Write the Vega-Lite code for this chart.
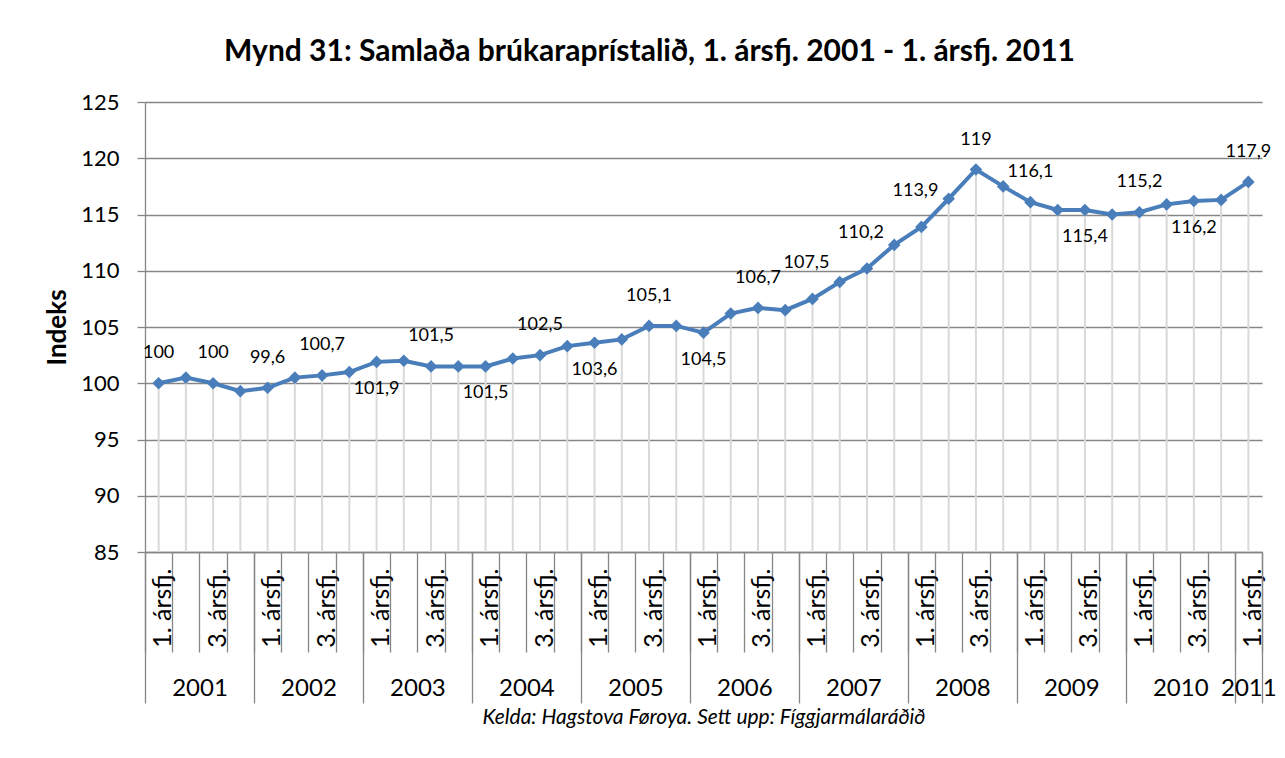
{
  "$schema": "https://vega.github.io/schema/vega-lite/v6.json",
  "width": 1117,
  "height": 450,
  "autosize": {"type": "none"},
  "padding": {"left": 145, "top": 102, "right": 23, "bottom": 206},
  "background": "white",
  "config": {"font": "Lato", "view": {"stroke": null}},
  "title": {"text": "Mynd 31: Samlaða brúkaraprístalið, 1. ársfj. 2001 - 1. ársfj. 2011", "fontSize": 30, "fontWeight": "bold", "color": "black", "anchor": "middle", "dx": -54, "offset": 24},
  "data": {"values": [
    {"i": 0, "ar": 2001, "q": 1, "v": 100},
    {"i": 1, "ar": 2001, "q": 2, "v": 100.5},
    {"i": 2, "ar": 2001, "q": 3, "v": 100},
    {"i": 3, "ar": 2001, "q": 4, "v": 99.3},
    {"i": 4, "ar": 2002, "q": 1, "v": 99.6},
    {"i": 5, "ar": 2002, "q": 2, "v": 100.5},
    {"i": 6, "ar": 2002, "q": 3, "v": 100.7},
    {"i": 7, "ar": 2002, "q": 4, "v": 101.0},
    {"i": 8, "ar": 2003, "q": 1, "v": 101.9},
    {"i": 9, "ar": 2003, "q": 2, "v": 102.0},
    {"i": 10, "ar": 2003, "q": 3, "v": 101.5},
    {"i": 11, "ar": 2003, "q": 4, "v": 101.5},
    {"i": 12, "ar": 2004, "q": 1, "v": 101.5},
    {"i": 13, "ar": 2004, "q": 2, "v": 102.2},
    {"i": 14, "ar": 2004, "q": 3, "v": 102.5},
    {"i": 15, "ar": 2004, "q": 4, "v": 103.3},
    {"i": 16, "ar": 2005, "q": 1, "v": 103.6},
    {"i": 17, "ar": 2005, "q": 2, "v": 103.9},
    {"i": 18, "ar": 2005, "q": 3, "v": 105.1},
    {"i": 19, "ar": 2005, "q": 4, "v": 105.1},
    {"i": 20, "ar": 2006, "q": 1, "v": 104.5},
    {"i": 21, "ar": 2006, "q": 2, "v": 106.2},
    {"i": 22, "ar": 2006, "q": 3, "v": 106.7},
    {"i": 23, "ar": 2006, "q": 4, "v": 106.5},
    {"i": 24, "ar": 2007, "q": 1, "v": 107.5},
    {"i": 25, "ar": 2007, "q": 2, "v": 109.0},
    {"i": 26, "ar": 2007, "q": 3, "v": 110.2},
    {"i": 27, "ar": 2007, "q": 4, "v": 112.3},
    {"i": 28, "ar": 2008, "q": 1, "v": 113.9},
    {"i": 29, "ar": 2008, "q": 2, "v": 116.4},
    {"i": 30, "ar": 2008, "q": 3, "v": 119.0},
    {"i": 31, "ar": 2008, "q": 4, "v": 117.5},
    {"i": 32, "ar": 2009, "q": 1, "v": 116.1},
    {"i": 33, "ar": 2009, "q": 2, "v": 115.4},
    {"i": 34, "ar": 2009, "q": 3, "v": 115.4},
    {"i": 35, "ar": 2009, "q": 4, "v": 115.0},
    {"i": 36, "ar": 2010, "q": 1, "v": 115.2},
    {"i": 37, "ar": 2010, "q": 2, "v": 115.9},
    {"i": 38, "ar": 2010, "q": 3, "v": 116.2},
    {"i": 39, "ar": 2010, "q": 4, "v": 116.3},
    {"i": 40, "ar": 2011, "q": 1, "v": 117.9}
  ]},
  "transform": [
    {"calculate": "replace(format(datum.v, '.1~f'), '.', ',')", "as": "lbl"}
  ],
  "encoding": {
    "y": {
      "field": "v", "type": "quantitative",
      "scale": {"domain": [85, 125], "nice": false, "zero": false},
      "axis": {
        "title": "Indeks", "titleFontSize": 26, "titleFontWeight": "bold", "titleColor": "black", "titlePadding": 10,
        "values": [85, 90, 95, 100, 105, 110, 115, 120, 125],
        "labelFontSize": 22, "labelColor": "black", "labelPadding": 18,
        "tickSize": 8, "tickColor": "#868686", "tickWidth": 1.3,
        "domainColor": "#868686", "domainWidth": 1.3,
        "grid": true, "gridColor": "#868686", "gridWidth": 1.3
      }
    }
  },
  "layer": [
    {
      "mark": {"type": "rule", "color": "#d9d9d9", "strokeWidth": 2},
      "encoding": {
        "x": {"field": "i", "type": "quantitative", "scale": {"domain": [-0.5, 40.5], "nice": false, "zero": false},
          "axis": {"orient": "bottom", "title": null, "grid": false, "domain": false, "labels": false,
            "values": [-0.5, 0.5, 1.5, 2.5, 3.5, 4.5, 5.5, 6.5, 7.5, 8.5, 9.5, 10.5, 11.5, 12.5, 13.5, 14.5, 15.5, 16.5, 17.5, 18.5, 19.5, 20.5, 21.5, 22.5, 23.5, 24.5, 25.5, 26.5, 27.5, 28.5, 29.5, 30.5, 31.5, 32.5, 33.5, 34.5, 35.5, 36.5, 37.5, 38.5, 39.5, 40.5],
            "ticks": true, "tickSize": 100, "tickColor": "#868686", "tickWidth": 1.3}},
        "y2": {"datum": 85}
      }
    },
    {
      "mark": {"type": "line", "color": "#4a7ebb", "strokeWidth": 4},
      "encoding": {
        "x": {"field": "i", "type": "quantitative", "scale": {"domain": [-0.5, 40.5], "nice": false, "zero": false},
          "axis": {"orient": "bottom", "title": null, "grid": false, "domain": true, "domainColor": "#868686", "domainWidth": 1.3,
            "ticks": false, "tickSize": 0,
            "values": [0, 2, 4, 6, 8, 10, 12, 14, 16, 18, 20, 22, 24, 26, 28, 30, 32, 34, 36, 38, 40],
            "labelExpr": "datum.value % 4 === 0 ? '1. ársfj.' : '3. ársfj.'",
            "labelAngle": 270, "labelAlign": "right", "labelBaseline": "middle", "labelPadding": 16, "labelOffset": 4,
            "labelFontSize": 25, "labelColor": "black", "labelFlush": false, "labelOverlap": false, "labelBound": false}}
      }
    },
    {
      "mark": {"type": "point", "shape": "diamond", "filled": true, "size": 160, "color": "#4a7ebb", "opacity": 1},
      "encoding": {
        "x": {"field": "i", "type": "quantitative", "scale": {"domain": [-0.5, 40.5], "nice": false, "zero": false},
          "axis": {"orient": "bottom", "title": null, "grid": false, "domain": false, "labels": false,
            "values": [-0.5, 3.5, 7.5, 11.5, 15.5, 19.5, 23.5, 27.5, 31.5, 35.5, 39.5, 40.5],
            "ticks": true, "tickSize": 151, "tickColor": "#868686", "tickWidth": 1.3}}
      }
    },
    {
      "transform": [{"filter": {"field": "i", "oneOf": [0, 2, 4, 6, 10, 14, 18, 22, 30, 32, 36, 40]}}],
      "mark": {"type": "text", "fontSize": 18, "color": "black", "align": "center", "baseline": "middle", "dy": -30},
      "encoding": {
        "x": {"field": "i", "type": "quantitative", "scale": {"domain": [-0.5, 40.5], "nice": false, "zero": false},
          "axis": {"orient": "bottom", "grid": false, "domain": false, "ticks": false, "tickSize": 0,
            "values": [1.5, 5.5, 9.5, 13.5, 17.5, 21.5, 25.5, 29.5, 33.5, 37.5, 40],
            "labelExpr": "'' + (2001 + floor((datum.value + 0.5) / 4))",
            "labelBaseline": "middle", "labelPadding": 136, "labelFontSize": 24, "labelColor": "black",
            "labelFlush": false, "labelOverlap": false, "labelBound": false,
            "title": "Kelda: Hagstova Føroya. Sett upp: Fíggjarmálaráðið", "titleFontSize": 21, "titleFontStyle": "italic", "titleFontWeight": "normal", "titleColor": "black", "titlePadding": 6}},
        "text": {"field": "lbl"}
      }
    },
    {
      "transform": [{"filter": {"field": "i", "oneOf": [8, 12, 16, 20, 34, 38]}}],
      "mark": {"type": "text", "fontSize": 18, "color": "black", "align": "center", "baseline": "middle", "dy": 27},
      "encoding": {
        "x": {"field": "i", "type": "quantitative", "scale": {"domain": [-0.5, 40.5], "nice": false, "zero": false}, "axis": null},
        "text": {"field": "lbl"}
      }
    },
    {
      "transform": [{"filter": {"field": "i", "oneOf": [24, 26, 28]}}],
      "mark": {"type": "text", "fontSize": 18, "color": "black", "align": "center", "baseline": "middle", "dy": -36, "dx": -6},
      "encoding": {
        "x": {"field": "i", "type": "quantitative", "scale": {"domain": [-0.5, 40.5], "nice": false, "zero": false}, "axis": null},
        "text": {"field": "lbl"}
      }
    }
  ],
  "resolve": {"axis": {"x": "independent"}}
}
